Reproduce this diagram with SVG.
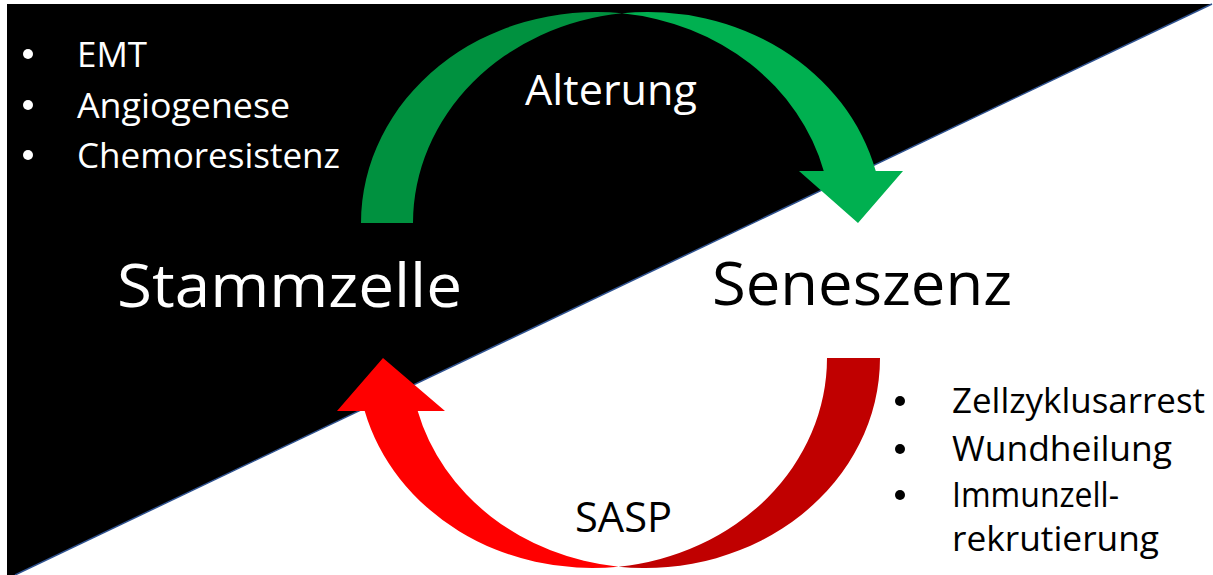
<svg xmlns="http://www.w3.org/2000/svg" width="1213" height="575" viewBox="0 0 1213 575">
  <style>
    .t { font-family: "Open Sans", "Liberation Sans", sans-serif; }
    .w { fill: #ffffff; }
    .k { fill: #000000; }
    .big { font-size: 60px; }
    .lbl { font-size: 42px; }
    .bl { font-size: 35px; }
    .br { font-size: 34px; }
    .back-g { fill: #00913F; }
    .front-g { fill: #00B050; }
    .back-r { fill: #C00000; }
    .front-r { fill: #FF0000; }
  </style>
  <defs>
    <circle id="dot" cx="0" cy="0" r="5"/>
  </defs>
  <rect x="0" y="0" width="1213" height="575" fill="#ffffff"/>
  <g id="background">
    <polygon points="7,4 1212,4 15,575 7,575" fill="#000000"/>
    <line x1="1212" y1="4" x2="15" y2="575" stroke="#2F528F" stroke-width="1.5"/>
  </g>
  <g id="connectors">
    <g id="arrow-alterung">
      <path class="back-g" d="M361,223 A235,211 0 0 1 622,13.3 A235,211 0 0 0 413,223 Z"/>
      <path class="front-g" d="M622,13.3 A235,211 0 0 1 875.75,171 L903,171 L858,223 L799,171 L823.75,171 A235,211 0 0 0 622,13.3 Z"/>
      <text class="t w lbl" x="525" y="105" textLength="172" lengthAdjust="spacingAndGlyphs">Alterung</text>
    </g>
    <g id="arrow-sasp">
      <path class="back-r" d="M827,358 L880,358 A235,210 0 0 1 618.5,566.7 A235,210 0 0 0 827,358 Z"/>
      <path class="front-r" d="M618.5,566.7 A235,210 0 0 1 364.7,411 L337,411 L383,358 L445,411 L417.7,411 A235,210 0 0 0 618.5,566.7 Z"/>
      <text class="t k lbl" x="575" y="532" textLength="97" lengthAdjust="spacingAndGlyphs">SASP</text>
    </g>
  </g>
  <g id="stammzelle">
    <text class="t w big" x="117" y="307" textLength="345" lengthAdjust="spacingAndGlyphs">Stammzelle</text>
  </g>
  <g id="seneszenz">
    <text class="t k big" x="712" y="305" textLength="300" lengthAdjust="spacingAndGlyphs">Seneszenz</text>
  </g>
  <g id="bullets-stammzelle" fill="#ffffff">
    <use href="#dot" x="28" y="54"/>
    <text class="t w bl" x="77" y="67" textLength="70" lengthAdjust="spacingAndGlyphs">EMT</text>
    <use href="#dot" x="28" y="105"/>
    <text class="t w bl" x="77" y="118" textLength="213" lengthAdjust="spacingAndGlyphs">Angiogenese</text>
    <use href="#dot" x="28" y="155"/>
    <text class="t w bl" x="77" y="168" textLength="263" lengthAdjust="spacingAndGlyphs">Chemoresistenz</text>
  </g>
  <g id="bullets-seneszenz" fill="#000000">
    <use href="#dot" x="900" y="401"/>
    <text class="t k br" x="952" y="413" textLength="253" lengthAdjust="spacingAndGlyphs">Zellzyklusarrest</text>
    <use href="#dot" x="900" y="449"/>
    <text class="t k br" x="952" y="461" textLength="220" lengthAdjust="spacingAndGlyphs">Wundheilung</text>
    <use href="#dot" x="900" y="495"/>
    <text class="t k br" x="952" y="507" textLength="167" lengthAdjust="spacingAndGlyphs">Immunzell-</text>
    <text class="t k br" x="952" y="551" textLength="207" lengthAdjust="spacingAndGlyphs">rekrutierung</text>
  </g>
</svg>
